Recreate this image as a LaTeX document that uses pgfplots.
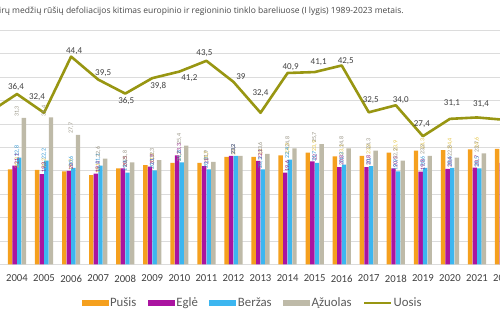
\documentclass[border=0pt]{standalone}
\usepackage{fontspec}
\setmainfont{Carlito}
\newfontfamily\titlefont{Open Sans}
\usepackage{pgfplots}
\pgfplotsset{compat=1.18}
\usepackage{pgfplotstable}
\definecolor{pusis}{RGB}{245,160,30}
\definecolor{egle}{RGB}{170,20,160}
\definecolor{berzas}{RGB}{60,182,240}
\definecolor{azuolas}{RGB}{190,186,168}
\definecolor{uosis}{RGB}{152,150,18}
\definecolor{pusislab}{RGB}{228,196,70}
\definecolor{eglelab}{RGB}{140,30,130}
\definecolor{berzaslab}{RGB}{50,150,210}
\definecolor{azuolaslab}{RGB}{150,146,130}
\definecolor{gridgray}{RGB}{220,220,220}
\definecolor{txtgray}{RGB}{64,64,64}
\definecolor{leggray}{RGB}{89,89,89}
\definecolor{titlegray}{RGB}{70,70,70}

\pgfplotstableread{
year P E B A
2004 20.3 21.1 22.8 31.3
2005 20.2 19.3 22.2 31.4
2006 19.9 20.0 20.6 27.7
2007 19.1 19.4 21.1 22.6
2008 20.5 20.5 19.6 21.8
2009 21.2 20.9 20.1 22.3
2010 21.7 23.3 21.8 25.4
2011 21.7 21.0 20.3 21.9
2012 23.0 23.2 23.2 23.2
2013 23.0 22.1 20.3 23.6
2014 23.3 19.6 22.4 24.8
2015 23.9 22.0 21.7 25.7
2016 23.1 20.8 21.3 24.8
2017 23.2 20.8 21.0 24.3
2018 23.9 20.5 19.9 22.2
2019 24.3 19.8 20.6 23.2
2020 24.4 20.4 20.6 22.8
2021 24.6 20.7 20.5 23.7
2022 24.7 21.7 21.0 23.0
}\bars

\pgfplotstableread{
year v lab dx dy
2003 32.6 {} 0 0
2004 36.4 36,4 -1 7
2005 32.4 32,4 -7 16
2006 44.4 44,4 3 5
2007 39.5 39,5 5 6.5
2008 36.5 36,5 1 -7
2009 39.8 39,8 6 -8
2010 41.2 41,2 10 -7
2011 43.5 43,5 -2 8
2012 39.0 39 7.5 5
2013 32.4 32,4 0 20
2014 40.9 40,9 3 6
2015 41.1 41,1 4 10
2016 42.5 42,5 4 4
2017 32.5 32,5 2 12
2018 34.0 34,0 5 5
2019 27.4 27,4 -1 12
2020 31.1 31,1 2 15.5
2021 31.4 31,4 4 13.5
2022 30.9 {} 0 0
}\uosis

\begin{document}
\begin{tikzpicture}
\path[use as bounding box] (0,0) rectangle (500pt,330pt);
\node[anchor=west, inner sep=0pt, font=\titlefont\fontsize{8.5}{9}\selectfont, text=titlegray] at (-1pt,319pt) {irų medžių rūšių defoliacijos kitimas europinio ir regioninio tinklo bareliuose (I lygis) 1989-2023 metais.};
\begin{axis}[
  at={(0pt,65.6pt)}, anchor=south west,
  scale only axis, width=517.6pt, height=234pt,
  xmin=2003.372, xmax=2022.5, ymin=0, ymax=50,
  ytick={0,5,...,50}, yticklabel=\empty,
  ymajorgrids, grid style={draw=gridgray, line width=0.8pt},
  axis line style={draw=none}, major tick length=0pt,
  xtick={2003,2004,2005,2006,2007,2008,2009,2010,2011,2012,2013,2014,2015,2016,2017,2018,2019,2020,2021,2022},
  xticklabels={2003,2004,2005,2006,2007,2008,2009,2010,2011,2012,2013,2014,2015,2016,2017,2018,2019,2020,2021,2022},
  xticklabel style={font=\fontsize{10.7}{12}\selectfont, text=txtgray, yshift=-7pt},
  /pgf/number format/.cd, use comma, fixed, precision=1, assume math mode=true,
  /pgfplots/.cd,
  legend style={at={(0.4875,-0.165)}, anchor=center, draw=none, fill=none,
    font=\fontsize{12.8}{14}\selectfont, text=leggray,
    nodes={inner sep=1.5pt},
    /tikz/every even column/.append style={column sep=10pt}},
  legend columns=5,
]
\addplot[ybar, bar width=4.4pt, bar shift=-6.9pt, fill=pusis, draw=none,
  nodes near coords, every node near coord/.append style={font=\fontsize{6}{6}\selectfont, rotate=90, anchor=west, inner sep=1pt, text=pusislab},
  legend image code/.code={\fill[pusis] (0pt,-3pt) rectangle (27pt,3pt);}]
  table[x=year,y=P]{\bars};
\addlegendentry{Pušis}
\addplot[ybar, bar width=4.4pt, bar shift=-2.3pt, fill=egle, draw=none,
  nodes near coords, every node near coord/.append style={font=\fontsize{6}{6}\selectfont, rotate=90, anchor=west, inner sep=1pt, text=eglelab},
  legend image code/.code={\fill[egle] (0pt,-3pt) rectangle (27pt,3pt);}]
  table[x=year,y=E]{\bars};
\addlegendentry{Eglė}
\addplot[ybar, bar width=4.4pt, bar shift=2.3pt, fill=berzas, draw=none,
  nodes near coords, every node near coord/.append style={font=\fontsize{6}{6}\selectfont, rotate=90, anchor=west, inner sep=1pt, text=berzaslab},
  legend image code/.code={\fill[berzas] (0pt,-3pt) rectangle (27pt,3pt);}]
  table[x=year,y=B]{\bars};
\addlegendentry{Beržas}
\addplot[ybar, bar width=4.4pt, bar shift=6.9pt, fill=azuolas, draw=none,
  nodes near coords, every node near coord/.append style={font=\fontsize{6}{6}\selectfont, rotate=90, anchor=west, inner sep=1pt, text=azuolaslab},
  legend image code/.code={\fill[azuolas] (0pt,-3pt) rectangle (27pt,3pt);}]
  table[x=year,y=A]{\bars};
\addlegendentry{Ąžuolas}
\addplot[uosis, line width=2.6pt, line join=round, mark=none,
  point meta=explicit symbolic, nodes near coords,
  visualization depends on={\thisrow{dx}\as\dx},
  visualization depends on={\thisrow{dy}\as\dy},
  every node near coord/.append style={anchor=center, xshift=\dx pt, yshift=\dy pt, font=\fontsize{9}{10}\selectfont, text=txtgray},
  legend image code/.code={\draw[uosis, line width=2pt] (0pt,0pt) -- (27pt,0pt);}]
  table[x=year,y=v,meta=lab]{\uosis};
\addlegendentry{Uosis}
\end{axis}
\end{tikzpicture}
\end{document}
